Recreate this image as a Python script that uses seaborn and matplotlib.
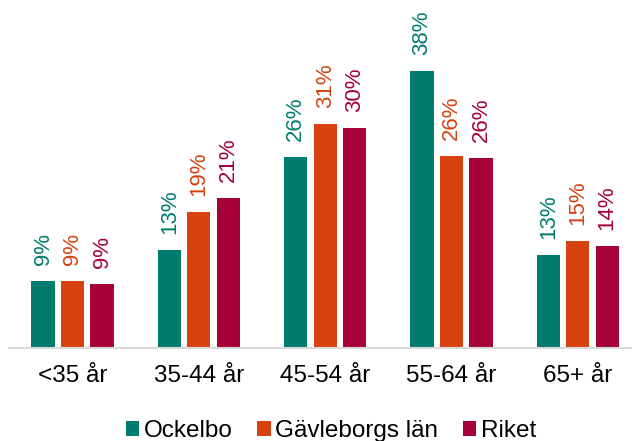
import matplotlib
matplotlib.use("Agg")
import matplotlib.pyplot as plt
from matplotlib.patches import Patch
import seaborn as sns
import pandas as pd

categories = ["<35 år", "35-44 år", "45-54 år", "55-64 år", "65+ år"]
series = ["Ockelbo", "Gävleborgs län", "Riket"]
ockelbo = [9.2, 13.4, 26.2, 38.0, 12.7]
gavleborg = [9.1, 18.6, 30.8, 26.3, 14.7]
riket = [8.8, 20.6, 30.2, 26.1, 13.9]
colors = ["#007C6F", "#D7410F", "#A6003B"]

df = pd.DataFrame({
    "cat": categories * 3,
    "serie": [s for s in series for _ in categories],
    "val": ockelbo + gavleborg + riket,
})

sns.set_theme(style="white")
plt.rcParams["font.family"] = ["Liberation Sans", "DejaVu Sans"]
plt.rcParams["text.color"] = "black"

W, H = 636, 441
fig = plt.figure(figsize=(W / 100, H / 100), dpi=100)
left_px, right_px, base_px, top_px = 9.4, 631, 347.5, 10
ax = fig.add_axes([left_px / W, 1 - base_px / H,
                   (right_px - left_px) / W, (base_px - top_px) / H])

sns.barplot(data=df, x="cat", y="val", hue="serie", hue_order=series,
            palette=colors, width=0.70, gap=0.21, ax=ax, legend=False,
            linewidth=0, saturation=1, errorbar=None)

pitch = 126.3
ax.set_xlim(-0.5, -0.5 + (right_px - left_px) / pitch)
scale = 276.2 / 38.0
ax.set_ylim(0, (base_px - top_px) / scale)

for cont, col in zip(ax.containers, colors):
    vals = [b.get_height() for b in cont]
    ax.bar_label(cont, labels=[f"{v:.0f}%" for v in vals], padding=11.5,
                 rotation=90, color=col, fontsize=16)

for s in ["top", "right", "left"]:
    ax.spines[s].set_visible(False)
ax.spines["bottom"].set_color("#D9D9D9")
ax.spines["bottom"].set_linewidth(1.5)
ax.set_yticks([])
ax.set_xlabel("")
ax.set_ylabel("")
ax.tick_params(axis="x", length=0, pad=12.5, labelsize=17.5, colors="black")

handles = [Patch(facecolor=c, edgecolor="none", label=s) for s, c in zip(series, colors)]
fig.legend(handles=handles, loc="center", bbox_to_anchor=(331 / W, 1 - 431 / H),
           ncol=3, frameon=False, fontsize=17.5, handlelength=0.55,
           handleheight=0.55, handletextpad=0.2, columnspacing=1.0,
           borderpad=0, borderaxespad=0, labelcolor="black")

fig.savefig("out.png", dpi=100)
